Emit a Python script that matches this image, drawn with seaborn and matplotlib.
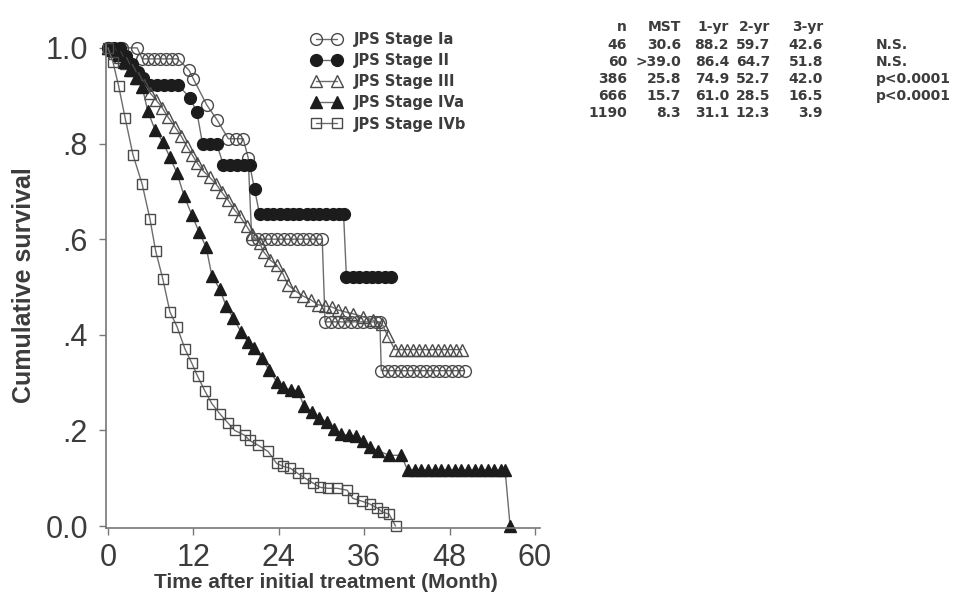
import matplotlib
matplotlib.use("Agg")
import matplotlib.pyplot as plt
import seaborn as sns
import pandas as pd
from matplotlib.font_manager import FontProperties

# ---------------- data ----------------
stage_names = ["JPS Stage Ia", "JPS Stage II", "JPS Stage III", "JPS Stage IVa", "JPS Stage IVb"]

ia_t = [0, 2.0, 4.1, 4.8, 5.6, 6.5, 7.3, 8.1, 9.0, 9.8, 11.4, 12.0, 13.9, 15.3, 16.9, 18.0, 19.0, 19.7,
        20.2, 21.1, 22.0, 22.9, 23.8, 24.7, 25.6, 26.5, 27.4, 28.3, 29.2, 30.1,
        30.5, 31.4, 32.3, 33.2, 34.1, 35.0, 35.9, 36.8, 37.7, 38.2,
        38.4, 39.3, 40.2, 41.1, 42.0, 42.9, 43.8, 44.7, 45.6, 46.5, 47.4, 48.3, 49.2, 50.1]
ia_s = [1.0, 1.0, 1.0, 0.977, 0.977, 0.977, 0.977, 0.977, 0.977, 0.977, 0.953, 0.935, 0.88, 0.85, 0.81, 0.81, 0.81, 0.77,
        0.60, 0.60, 0.60, 0.60, 0.60, 0.60, 0.60, 0.60, 0.60, 0.60, 0.60, 0.60,
        0.427, 0.427, 0.427, 0.427, 0.427, 0.427, 0.427, 0.427, 0.427, 0.427,
        0.325, 0.325, 0.325, 0.325, 0.325, 0.325, 0.325, 0.325, 0.325, 0.325, 0.325, 0.325, 0.325, 0.325]

ii_t = [0, 0.8, 1.7, 2.6, 3.4, 4.2, 4.9, 5.9, 6.9, 7.9, 8.8, 9.8, 11.5, 12.5, 13.3, 14.3, 15.3,
        16.2, 17.1, 18.1, 19.1, 19.9, 20.6,
        21.3, 22.3, 23.2, 24.2, 25.1, 26.0, 26.9, 27.9, 28.8, 29.7, 30.6, 31.6, 32.5, 33.1,
        33.5, 34.4, 35.3, 36.2, 37.1, 38.0, 38.9, 39.8]
ii_s = [1.0, 1.0, 1.0, 0.983, 0.967, 0.95, 0.937, 0.923, 0.923, 0.923, 0.923, 0.923, 0.896, 0.865, 0.798, 0.798, 0.798,
        0.756, 0.756, 0.756, 0.756, 0.756, 0.704,
        0.652, 0.652, 0.652, 0.652, 0.652, 0.652, 0.652, 0.652, 0.652, 0.652, 0.652, 0.652, 0.652, 0.652,
        0.521, 0.521, 0.521, 0.521, 0.521, 0.521, 0.521, 0.521]

iii_t = [0, 0.8, 1.7, 2.5, 3.4, 4.2, 5.1, 5.9, 6.7, 7.6,
         8.4, 9.4, 10.3, 11.1, 11.8, 12.5, 13.3, 14.3, 15.2, 16.0,
         16.9, 17.7, 18.5, 19.5, 20.2, 21.3, 21.9, 22.8, 23.7, 24.6,
         25.3, 26.3, 27.4, 28.5, 29.5, 30.5, 31.5, 32.3, 33.3, 34.4,
         35.8, 37.2, 38.5, 39.3, 40.3,
         41.2, 42.0, 42.9, 43.7, 44.6, 45.5, 46.3, 47.2, 48.0, 48.9, 49.7]
iii_s = [1.0, 0.99, 0.98, 0.969, 0.954, 0.938, 0.923, 0.906, 0.892, 0.875,
         0.856, 0.835, 0.815, 0.794, 0.777, 0.76, 0.744, 0.729, 0.715, 0.698,
         0.681, 0.663, 0.648, 0.627, 0.61, 0.592, 0.573, 0.556, 0.546, 0.527,
         0.504, 0.492, 0.481, 0.473, 0.463, 0.46, 0.458, 0.452, 0.448, 0.444,
         0.438, 0.431, 0.423, 0.398, 0.369,
         0.369, 0.369, 0.369, 0.369, 0.369, 0.369, 0.369, 0.369, 0.369, 0.369, 0.369]

iva_t = [0, 0.6, 1.4, 2.2, 3.1, 3.9, 4.8, 5.6, 6.6, 7.7,
         8.7, 9.7, 10.7, 11.8, 12.8, 13.8, 14.6, 15.7, 16.6, 17.6,
         18.7, 19.7, 20.5, 21.6, 22.6, 23.7, 24.6, 25.7, 26.7, 27.5,
         28.7, 29.6, 30.8, 31.7, 32.7, 33.8, 34.8, 35.8, 36.8, 37.9,
         39.5, 41.2,
         42.1, 43.1, 44.0, 45.0, 45.9, 46.8, 47.8, 48.7, 49.6, 50.6, 51.5, 52.4, 53.4, 54.3, 55.2, 55.8,
         56.5]
iva_s = [1.0, 0.996, 0.985, 0.97, 0.954, 0.938, 0.919, 0.867, 0.829, 0.804,
         0.771, 0.738, 0.69, 0.65, 0.615, 0.583, 0.523, 0.496, 0.46, 0.435,
         0.406, 0.385, 0.373, 0.352, 0.327, 0.302, 0.29, 0.285, 0.283, 0.252,
         0.238, 0.227, 0.217, 0.202, 0.192, 0.19, 0.188, 0.177, 0.165, 0.158,
         0.148, 0.148,
         0.117, 0.117, 0.117, 0.117, 0.117, 0.117, 0.117, 0.117, 0.117, 0.117, 0.117, 0.117, 0.117, 0.117, 0.117, 0.117,
         0.0]

ivb_t = [0, 0.7, 1.5, 2.4, 3.5, 4.8, 5.9, 6.7, 7.7, 8.7,
         9.7, 10.8, 11.8, 12.6, 13.6, 14.6, 15.7, 16.9, 17.8, 19.2,
         19.9, 21.1, 22.5, 23.7, 24.6, 25.6, 26.7, 27.7, 28.8, 29.8,
         30.9, 32.2, 33.6, 34.4, 35.7, 36.8, 37.8, 38.6, 39.5, 40.4]
ivb_s = [1.0, 0.97, 0.92, 0.854, 0.777, 0.715, 0.642, 0.575, 0.517, 0.448,
         0.417, 0.371, 0.34, 0.313, 0.283, 0.256, 0.235, 0.215, 0.2, 0.19,
         0.179, 0.169, 0.156, 0.131, 0.125, 0.121, 0.11, 0.1, 0.09, 0.081,
         0.079, 0.079, 0.075, 0.058, 0.052, 0.046, 0.038, 0.029, 0.025, 0.0]

x_ticks = [0, 12, 24, 36, 48, 60]
y_ticks = [0.0, 0.2, 0.4, 0.6, 0.8, 1.0]
y_tick_labels = ["0.0", ".2", ".4", ".6", ".8", "1.0"]

tbl_header = ["n", "MST", "1-yr", "2-yr", "3-yr"]
tbl_n = ["46", "60", "386", "666", "1190"]
tbl_mst = ["30.6", ">39.0", "25.8", "15.7", "8.3"]
tbl_1yr = ["88.2", "86.4", "74.9", "61.0", "31.1"]
tbl_2yr = ["59.7", "64.7", "52.7", "28.5", "12.3"]
tbl_3yr = ["42.6", "51.8", "42.0", "16.5", "3.9"]
tbl_p = ["N.S.", "N.S.", "p<0.0001", "p<0.0001", ""]

# ---------------- style ----------------
sns.set_style("ticks")
plt.rcParams["font.family"] = ["Liberation Sans", "DejaVu Sans"]

W, H = 960, 615
fig = plt.figure(figsize=(9.6, 6.15), dpi=100)
ax = fig.add_axes([106 / W, 87 / H, 434 / W, 483 / H])

LINE = "#6c6c6c"
EDGE = "#4a4a4a"
FILL = "#1c1c1c"
TXT = "#3c3c3c"

series = [
    (ia_t, ia_s, "o", "none", 8.5),
    (ii_t, ii_s, "o", FILL, 8.5),
    (iii_t, iii_s, "^", "none", 8.0),
    (iva_t, iva_s, "^", FILL, 8.0),
    (ivb_t, ivb_s, "s", "none", 7.5),
]

for name, (t, s, m, fc, ms) in zip(stage_names, series):
    df = pd.DataFrame({"t": t, "s": s})
    sns.lineplot(data=df, x="t", y="s", ax=ax, estimator=None, sort=False,
                 color=LINE, lw=1.0, marker=m, markersize=ms,
                 markerfacecolor=fc, markeredgecolor=EDGE if fc == "none" else FILL,
                 markeredgewidth=1.0, label=name, clip_on=False, legend=False)

ax.set_xlim(-0.28, 60.7)
ax.set_ylim(-0.004, 1.006)
ax.set_xticks(x_ticks)
ax.set_yticks(y_ticks)
ax.set_yticklabels(y_tick_labels)
ax.set_xlabel("")
ax.set_ylabel("")

tick_font = FontProperties(family=["Liberation Sans"], size=22)
for lab in ax.get_xticklabels() + ax.get_yticklabels():
    lab.set_fontproperties(tick_font)
    lab.set_color(TXT)

sns.despine(ax=ax)
for sp in ["left", "bottom"]:
    ax.spines[sp].set_color("#777777")
    ax.spines[sp].set_linewidth(1.2)
ax.tick_params(axis="both", direction="out", length=5, width=1.0, color="#777777")
ax.tick_params(axis="x", pad=6)
ax.tick_params(axis="y", pad=8)

# axis titles
fig.text(24 / W, 1 - 285 / H, "Cumulative survival", rotation=90, ha="center", va="center",
         fontsize=18, fontweight="bold", color=TXT, family=["Liberation Sans", "DejaVu Sans"])
fig.text(326 / W, 1 - 582 / H, "Time after initial treatment (Month)", ha="center", va="center",
         fontsize=15, fontweight="bold", color=TXT, family=["Liberation Sans", "DejaVu Sans"])

# legend
handles = ax.get_lines()[:5]
leg = ax.legend(handles, stage_names, loc="upper left", bbox_to_anchor=(312 / W, 1 - 32 / H),
                bbox_transform=fig.transFigure, frameon=False, numpoints=2,
                handlelength=2.0, handletextpad=0.9, labelspacing=0.42, borderpad=0, borderaxespad=0,
                prop=FontProperties(family="DejaVu Sans", weight="bold", size=10.5), labelcolor=TXT)

# table
tfont = dict(fontsize=10, fontweight="bold", color=TXT, family="DejaVu Sans", va="center")
col_right = [627, 681, 729, 770, 823]
header_y = 27
row_y = [45, 62, 79, 96, 113]
for cx, h in zip(col_right, tbl_header):
    fig.text(cx / W, 1 - header_y / H, h, ha="right", **tfont)
for i, y in enumerate(row_y):
    vals = [tbl_n[i], tbl_mst[i], tbl_1yr[i], tbl_2yr[i], tbl_3yr[i]]
    for cx, v in zip(col_right, vals):
        fig.text(cx / W, 1 - y / H, v, ha="right", **tfont)
    if tbl_p[i]:
        fig.text(876 / W, 1 - y / H, tbl_p[i], ha="left", **tfont)

fig.savefig("out.png", dpi=100)
